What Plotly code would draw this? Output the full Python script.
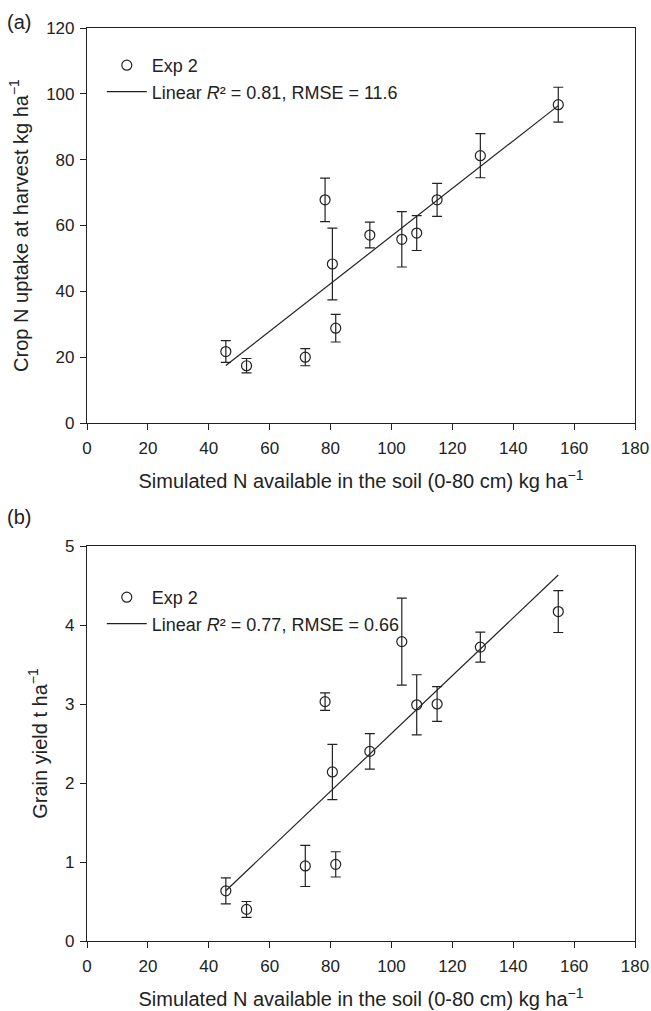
import plotly.graph_objects as go
from plotly.subplots import make_subplots
import numpy as np

# ---- data ----
sim_n = [45.6, 52.4, 71.7, 78.2, 80.6, 81.7, 92.9, 103.4, 108.3, 115.0, 129.2, 154.8]

uptake = [21.7, 17.4, 20.0, 67.8, 48.3, 28.8, 57.1, 55.8, 57.7, 67.8, 81.2, 96.7]
uptake_err = [3.3, 2.2, 2.6, 6.6, 10.9, 4.2, 3.9, 8.4, 5.3, 5.0, 6.7, 5.3]
uptake_fit = [0.723, -15.5]  # slope, intercept

grain = [0.635, 0.40, 0.95, 3.03, 2.14, 0.97, 2.40, 3.79, 2.99, 3.00, 3.72, 4.17]
grain_err = [0.165, 0.10, 0.26, 0.11, 0.35, 0.16, 0.225, 0.55, 0.38, 0.22, 0.19, 0.265]
grain_fit = [0.0366, -1.033]

legend_a = ["Exp 2", "Linear <i>R</i>² = 0.81, RMSE = 11.6"]
legend_b = ["Exp 2", "Linear <i>R</i>² = 0.77, RMSE = 0.66"]

x_title = "Simulated N available in the soil (0-80 cm) kg ha<sup>−1</sup>"
y_title_a = "Crop N uptake at harvest kg ha<sup>−1</sup>"
y_title_b = "Grain yield t ha<sup>−1</sup>"

FONT = "Liberation Sans, Arial, sans-serif"
INK = "#222222"

W, H = 651, 1011
ml, mr, mt, mb = 87, 16, 28, 70
ph = H - mt - mb

def fy(px):
    return (H - mb - px) / ph

fig = make_subplots(rows=2, cols=1)

def add_panel(row, y, err, fit, labels, legend_name):
    xs = np.array([min(sim_n), max(sim_n)])
    fig.add_trace(go.Scatter(
        x=sim_n, y=y, mode="markers", name=labels[0],
        marker=dict(symbol="circle-open", size=10, color=INK, line=dict(width=1.2, color=INK)),
        error_y=dict(type="data", array=err, visible=True, color=INK, thickness=1.2, width=5),
        legend=legend_name,
    ), row=row, col=1)
    fig.add_trace(go.Scatter(
        x=xs, y=fit[0] * xs + fit[1], mode="lines", name=labels[1],
        line=dict(color=INK, width=1.2),
        legend=legend_name,
    ), row=row, col=1)

add_panel(1, uptake, uptake_err, uptake_fit, legend_a, "legend")
add_panel(2, grain, grain_err, grain_fit, legend_b, "legend2")

axis_common = dict(
    showline=True, linecolor=INK, linewidth=1.2, mirror=True,
    ticks="outside", ticklen=6, tickwidth=1.2, tickcolor=INK,
    showgrid=False, zeroline=False, automargin=False,
    tickfont=dict(family=FONT, size=17, color=INK),
    title_font=dict(family=FONT, size=20, color=INK),
)

fig.update_xaxes(range=[0, 180], dtick=20, tick0=0, title_text=x_title, title_standoff=17,
                 ticklabelstandoff=3, **axis_common)
fig.update_yaxes(ticklabelstandoff=2, **axis_common)
fig.update_yaxes(range=[0, 120], dtick=20, title_text=y_title_a, title_standoff=12, row=1, col=1)
fig.update_yaxes(range=[0, 5], dtick=1, title_text=y_title_b, title_standoff=12, row=2, col=1)

fig.update_layout(
    xaxis=dict(domain=[0, 1]),
    yaxis=dict(domain=[fy(423), 1.0]),
    xaxis2=dict(domain=[0, 1]),
    yaxis2=dict(domain=[0, fy(546)]),
)

legend_common = dict(
    xanchor="left", yanchor="top", bgcolor="rgba(0,0,0,0)", borderwidth=0,
    font=dict(family=FONT, size=18, color=INK), itemwidth=40,
)
fig.update_layout(
    legend=dict(x=0.027, y=fy(47), **legend_common),
    legend2=dict(x=0.027, y=fy(579), **legend_common),
)

fig.add_annotation(text="(a)", xref="paper", yref="paper", x=-0.149, y=fy(9),
                   xanchor="left", yanchor="top", showarrow=False,
                   font=dict(family=FONT, size=20, color=INK))
fig.add_annotation(text="(b)", xref="paper", yref="paper", x=-0.149, y=fy(504),
                   xanchor="left", yanchor="top", showarrow=False,
                   font=dict(family=FONT, size=20, color=INK))

fig.update_layout(
    width=W, height=H, margin=dict(l=ml, r=mr, t=mt, b=mb),
    plot_bgcolor="white", paper_bgcolor="white", showlegend=True,
    font=dict(family=FONT, color=INK),
)

fig.write_html("out.html", config={"displayModeBar": False})

# remove default page margin so the figure sits at the window's top-left corner
with open("out.html", "r", encoding="utf-8") as f:
    html = f.read()
html = html.replace("<head>", "<head><style>html,body{margin:0;padding:0;}</style>", 1)
with open("out.html", "w", encoding="utf-8") as f:
    f.write(html)
